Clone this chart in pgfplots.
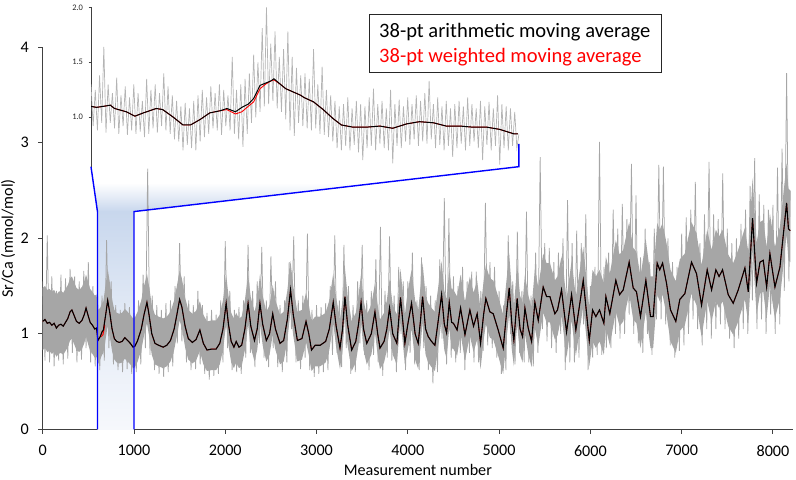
\documentclass[border=0pt]{standalone}
\usepackage{fontspec}
\setmainfont{Carlito}
\usepackage{pgfplots}
\usepackage{pgfplotstable}
\pgfplotsset{compat=1.18}
\definecolor{rawgray}{RGB}{166,166,166}
\definecolor{insetgray}{RGB}{180,180,180}
\definecolor{axisgray}{RGB}{64,64,64}
\definecolor{bandtop}{RGB}{200,215,237}
\definecolor{bandmid}{RGB}{228,235,246}
\definecolor{bandlow}{RGB}{246,248,252}
\pgfdeclareverticalshading{bandfade}{100bp}{color(0bp)=(bandlow); color(25bp)=(bandlow); color(50bp)=(bandmid); color(75bp)=(bandtop); color(100bp)=(bandtop)}
\pgfdeclareverticalshading{wedgefade}{100bp}{color(0bp)=(bandtop); color(25bp)=(bandtop); color(48bp)=(bandmid); color(72bp)=(white); color(100bp)=(white)}

\pgfplotstableread[row sep=\\]{
x y\\
0 1.13\\ 25 1.15\\ 50 1.11\\ 75 1.12\\ 100 1.09\\ 125 1.11\\ 150 1.06\\ 175 1.09\\ 200 1.10\\ 225 1.08\\
250 1.12\\ 275 1.16\\ 300 1.23\\ 320 1.25\\ 345 1.19\\ 370 1.13\\ 400 1.11\\ 430 1.14\\ 455 1.20\\ 475 1.27\\
495 1.20\\ 520 1.12\\ 545 1.09\\ 570 1.05\\ 590 1.06\\ 605 0.93\\ 630 0.97\\ 650 1.02\\ 665 1.04\\ 690 1.20\\
712 1.35\\ 735 1.22\\ 760 1.05\\ 785 0.95\\ 810 0.92\\ 840 0.91\\ 870 0.92\\ 900 0.96\\ 930 0.93\\ 960 0.90\\
990 0.86\\ 1010 0.87\\ 1040 0.93\\ 1080 1.05\\ 1110 1.20\\ 1142 1.33\\ 1165 1.20\\ 1195 1.00\\ 1230 0.90\\ 1270 0.88\\
1320 0.86\\ 1360 0.88\\ 1400 0.93\\ 1440 1.05\\ 1470 1.20\\ 1500 1.36\\ 1525 1.28\\ 1560 1.08\\ 1595 0.95\\ 1640 0.91\\
1680 0.94\\ 1722 1.04\\ 1760 0.90\\ 1800 0.83\\ 1850 0.84\\ 1900 0.84\\ 1940 0.90\\ 1975 1.05\\ 2010 1.32\\ 2035 1.10\\
2065 0.92\\ 2095 0.86\\ 2120 0.92\\ 2150 0.86\\ 2180 0.88\\ 2215 1.05\\ 2250 1.32\\ 2280 1.08\\ 2320 0.93\\ 2350 1.05\\
2380 1.32\\ 2410 1.10\\ 2450 0.93\\ 2485 1.00\\ 2520 1.21\\ 2550 1.05\\ 2600 0.90\\ 2640 0.93\\ 2680 1.15\\ 2715 1.46\\
2745 1.20\\ 2790 0.93\\ 2840 0.95\\ 2885 1.13\\ 2915 1.00\\ 2945 0.83\\ 2985 0.88\\ 3040 0.88\\ 3100 0.92\\ 3140 1.05\\
3183 1.33\\ 3215 1.08\\ 3257 0.85\\ 3285 1.05\\ 3311 1.39\\ 3340 1.10\\ 3385 0.83\\ 3430 0.92\\ 3460 1.10\\ 3488 1.33\\
3515 1.05\\ 3550 0.90\\ 3600 1.00\\ 3640 1.23\\ 3670 1.00\\ 3695 0.85\\ 3740 0.92\\ 3770 1.05\\ 3800 1.27\\ 3835 1.00\\
3880 0.90\\ 3920 1.38\\ 3968 0.90\\ 4000 1.10\\ 4041 1.32\\ 4080 1.00\\ 4114 0.90\\ 4140 1.15\\ 4162 1.39\\ 4195 1.05\\
4224 0.97\\ 4260 0.92\\ 4297 0.88\\ 4335 1.15\\ 4370 1.41\\ 4400 1.10\\ 4425 1.01\\ 4454 1.33\\ 4480 1.12\\ 4500 1.11\\
4540 1.04\\ 4578 1.27\\ 4626 0.99\\ 4680 1.25\\ 4720 1.08\\ 4760 1.21\\ 4797 0.90\\ 4830 1.20\\ 4855 1.37\\ 4899 1.23\\
4936 1.21\\ 4990 1.04\\ 5045 0.85\\ 5080 1.20\\ 5111 1.48\\ 5140 1.10\\ 5162 0.93\\ 5198 1.37\\ 5230 1.05\\ 5257 0.97\\
5283 1.27\\ 5319 1.06\\ 5356 0.92\\ 5392 1.33\\ 5429 1.14\\ 5483 1.49\\ 5520 1.39\\ 5557 1.39\\ 5611 1.21\\ 5640 1.25\\
5684 1.46\\ 5739 1.02\\ 5794 1.41\\ 5841 1.04\\ 5922 1.56\\ 5988 0.93\\ 6024 1.25\\ 6060 1.18\\ 6100 1.25\\ 6148 1.11\\
6170 1.39\\ 6213 1.21\\ 6279 1.56\\ 6320 1.41\\ 6360 1.46\\ 6425 1.75\\ 6469 1.48\\ 6505 1.44\\ 6549 1.18\\ 6608 1.56\\
6659 1.18\\ 6688 1.18\\ 6732 1.74\\ 6760 1.67\\ 6791 1.74\\ 6834 1.53\\ 6878 1.25\\ 6936 1.13\\ 6980 1.36\\ 7035 1.42\\
7108 1.75\\ 7163 1.63\\ 7218 1.30\\ 7280 1.67\\ 7328 1.46\\ 7375 1.67\\ 7410 1.60\\ 7448 1.67\\ 7510 1.41\\ 7565 1.32\\
7620 1.46\\ 7693 1.69\\ 7730 1.44\\ 7777 2.21\\ 7821 1.53\\ 7858 1.75\\ 7894 1.77\\ 7931 1.49\\ 7967 1.84\\ 8022 1.49\\
8077 1.70\\ 8150 2.37\\ 8170 2.10\\ 8190 2.08\\
}\mainma

\begin{document}
\begin{tikzpicture}
\useasboundingbox (0,0) rectangle (796bp,480bp);
\begin{axis}[
  at={(42.7bp,50.7bp)}, anchor=south west,
  scale only axis, width=750.3bp, height=382bp,
  xmin=0, xmax=8220, ymin=0, ymax=4,
  axis lines*=left,
  axis line style={axisgray, line width=1bp},
  xtick={0,1000,...,8000}, ytick={0,1,2,3,4},
  tick align=outside, major tick length=4.5bp,
  tick style={axisgray, line width=0.9bp},
  scaled x ticks=false,
  xticklabel style={/pgf/number format/1000 sep={}, yshift=-8bp},
  yticklabel style={xshift=-6bp},
  /pgf/number format/assume math mode=true,
  tick label style={font=\fontsize{16.2}{19}\selectfont, text=black},
  xlabel={Measurement number}, ylabel={Sr/Ca (mmol/mol)},
  label style={font=\fontsize{16.2}{19}\selectfont},
  xlabel style={at={(axis description cs:0.5,-0.1065)}, anchor=center},
  ylabel style={at={(axis description cs:-0.0462,0.5)}, anchor=center},
  no markers,
]
\fill[shading=wedgefade] (axis cs:552,2.6) -- (axis cs:600,2.28) -- (axis cs:1000,2.28) -- (axis cs:3871,2.6) -- cycle;
\draw[white, line width=2bp] (axis cs:540,2.6) -- (axis cs:3890,2.6);
\fill[shading=bandfade] (axis cs:600,0) rectangle (axis cs:1000,2.28);
% dense core of the raw series (upper edge, then lower edge backwards)
\addplot[fill=rawgray, draw=none] coordinates {
(0,1.48)(25,1.50)(50,1.46)(75,1.47)(100,1.44)(125,1.46)(150,1.41)(175,1.44)(200,1.45)(225,1.43)(250,1.47)(275,1.51)(300,1.58)(320,1.60)(345,1.54)(370,1.48)(400,1.46)(430,1.49)(455,1.55)(475,1.62)(495,1.55)(520,1.47)(545,1.44)(570,1.40)(590,1.41)(605,1.25)(630,1.27)(650,1.32)(665,1.34)(690,1.52)(712,1.68)(735,1.54)(760,1.36)(785,1.25)(810,1.22)(840,1.21)(870,1.22)(900,1.26)(930,1.23)(960,1.20)(990,1.16)
(1010,1.17)(1040,1.23)(1080,1.35)(1110,1.50)(1142,1.63)(1165,1.50)(1195,1.30)(1230,1.20)(1270,1.18)(1320,1.16)(1360,1.18)(1400,1.23)(1440,1.35)(1470,1.50)(1500,1.66)(1525,1.58)(1560,1.38)(1595,1.25)(1640,1.21)(1680,1.24)(1722,1.34)(1760,1.20)(1800,1.13)(1850,1.14)(1900,1.14)(1940,1.20)(1975,1.35)(2010,1.62)(2035,1.40)(2065,1.22)(2095,1.16)(2120,1.22)(2150,1.16)(2180,1.18)(2215,1.35)(2250,1.62)(2280,1.38)(2320,1.23)(2350,1.35)(2380,1.62)(2410,1.40)(2450,1.23)(2485,1.30)(2520,1.51)(2550,1.35)(2600,1.20)(2640,1.23)(2680,1.45)(2715,1.76)(2745,1.50)(2790,1.23)(2840,1.25)(2885,1.43)(2915,1.30)(2945,1.13)(2985,1.18)(3040,1.18)(3100,1.22)(3140,1.35)(3183,1.63)(3215,1.38)(3257,1.15)(3285,1.35)(3311,1.69)(3340,1.40)(3385,1.13)(3430,1.22)(3460,1.40)(3488,1.63)(3515,1.35)(3550,1.20)(3600,1.30)(3640,1.53)(3670,1.30)(3695,1.15)(3740,1.22)(3770,1.35)(3800,1.57)(3835,1.30)(3880,1.20)(3920,1.68)(3968,1.20)
(4000,1.45)(4041,1.67)(4080,1.35)(4114,1.25)(4140,1.50)(4162,1.74)(4195,1.40)(4224,1.32)(4260,1.27)(4297,1.23)(4335,1.50)(4370,1.76)(4400,1.45)(4425,1.36)(4454,1.68)(4480,1.47)(4500,1.46)(4540,1.39)(4578,1.62)(4626,1.34)(4680,1.60)(4720,1.43)(4760,1.56)(4797,1.25)(4830,1.55)(4855,1.72)(4899,1.58)(4936,1.56)(4990,1.39)(5045,1.20)(5080,1.55)(5111,1.83)(5140,1.45)(5162,1.28)(5198,1.72)(5230,1.40)(5257,1.32)(5283,1.62)(5319,1.41)(5356,1.27)(5392,1.68)(5429,1.49)(5483,1.84)(5520,1.74)(5557,1.74)(5611,1.56)(5640,1.60)(5684,1.81)(5739,1.37)(5794,1.76)(5841,1.39)(5922,1.91)(5988,1.28)
(6024,1.67)(6060,1.60)(6100,1.67)(6148,1.53)(6170,1.81)(6213,1.63)(6279,1.98)(6320,1.83)(6360,1.88)(6425,2.17)(6469,1.90)(6505,1.86)(6549,1.60)(6608,1.98)(6659,1.60)(6688,1.60)(6732,2.16)(6760,2.09)(6791,2.16)(6834,1.95)(6878,1.67)(6936,1.55)(6980,1.78)(7035,1.84)(7108,2.17)(7163,2.05)(7218,1.72)(7280,2.09)(7328,1.88)(7375,2.09)(7410,2.02)(7448,2.09)(7510,1.83)(7565,1.74)(7620,1.88)(7693,2.11)(7730,1.86)(7777,2.63)(7821,1.95)(7858,2.17)(7894,2.19)(7931,1.91)(7967,2.26)(8022,1.91)(8077,2.12)(8150,2.79)(8170,2.52)(8190,2.50)
(8190,1.75)(8170,1.77)(8150,2.04)(8077,1.37)(8022,1.16)(7967,1.51)(7931,1.16)(7894,1.44)(7858,1.42)(7821,1.20)(7777,1.88)(7730,1.11)(7693,1.36)(7620,1.13)(7565,0.99)(7510,1.08)(7448,1.34)(7410,1.27)(7375,1.34)(7328,1.13)(7280,1.34)(7218,0.97)(7163,1.30)(7108,1.42)(7035,1.09)(6980,1.03)(6936,0.80)(6878,0.92)(6834,1.20)(6791,1.41)(6760,1.34)(6732,1.41)(6688,0.85)(6659,0.85)(6608,1.23)(6549,0.85)(6505,1.11)(6469,1.15)(6425,1.42)(6360,1.13)(6320,1.08)(6279,1.23)(6213,0.88)(6170,1.06)(6148,0.78)(6100,0.92)(6060,0.85)(6024,0.92)
(5988,0.66)(5922,1.29)(5841,0.77)(5794,1.14)(5739,0.75)(5684,1.19)(5640,0.98)(5611,0.94)(5557,1.12)(5520,1.12)(5483,1.22)(5429,0.87)(5392,1.06)(5356,0.65)(5319,0.79)(5283,1.00)(5257,0.70)(5230,0.78)(5198,1.10)(5162,0.66)(5140,0.83)(5111,1.21)(5080,0.93)(5045,0.58)(4990,0.77)(4936,0.94)(4899,0.96)(4855,1.10)(4830,0.93)(4797,0.63)(4760,0.94)(4720,0.81)(4680,0.98)(4626,0.72)(4578,1.00)(4540,0.77)(4500,0.84)(4480,0.85)(4454,1.06)(4425,0.74)(4400,0.83)(4370,1.14)(4335,0.88)(4297,0.61)(4260,0.65)(4224,0.70)(4195,0.78)(4162,1.12)(4140,0.88)(4114,0.63)(4080,0.73)(4041,1.05)(4000,0.83)
(3968,0.68)(3920,1.16)(3880,0.68)(3835,0.78)(3800,1.05)(3770,0.83)(3740,0.70)(3695,0.63)(3670,0.78)(3640,1.01)(3600,0.78)(3550,0.68)(3515,0.83)(3488,1.11)(3460,0.88)(3430,0.70)(3385,0.61)(3340,0.88)(3311,1.17)(3285,0.83)(3257,0.63)(3215,0.86)(3183,1.11)(3140,0.83)(3100,0.70)(3040,0.66)(2985,0.66)(2945,0.61)(2915,0.78)(2885,0.91)(2840,0.73)(2790,0.71)(2745,0.98)(2715,1.24)(2680,0.93)(2640,0.71)(2600,0.68)(2550,0.83)(2520,0.99)(2485,0.78)(2450,0.71)(2410,0.88)(2380,1.10)(2350,0.83)(2320,0.71)(2280,0.86)(2250,1.10)(2215,0.83)(2180,0.66)(2150,0.64)(2120,0.70)(2095,0.64)(2065,0.70)(2035,0.88)(2010,1.10)(1975,0.83)(1940,0.68)(1900,0.62)(1850,0.62)(1800,0.61)(1760,0.68)(1722,0.82)(1680,0.72)(1640,0.69)(1595,0.73)(1560,0.86)(1525,1.06)(1500,1.14)(1470,0.98)(1440,0.83)(1400,0.71)(1360,0.66)(1320,0.64)(1270,0.66)(1230,0.68)(1195,0.78)(1165,0.98)(1142,1.11)(1110,0.98)(1080,0.83)(1040,0.71)(1010,0.65)
(990,0.64)(960,0.68)(930,0.71)(900,0.74)(870,0.70)(840,0.69)(810,0.70)(785,0.73)(760,0.82)(735,0.97)(712,1.08)(690,0.95)(665,0.80)(650,0.78)(630,0.73)(605,0.68)(590,0.76)(570,0.75)(545,0.79)(520,0.82)(495,0.90)(475,0.97)(455,0.90)(430,0.84)(400,0.81)(370,0.83)(345,0.89)(320,0.95)(300,0.93)(275,0.86)(250,0.82)(225,0.78)(200,0.80)(175,0.79)(150,0.76)(125,0.81)(100,0.79)(75,0.82)(50,0.81)(25,0.85)(0,0.83)
};
\addplot[rawgray, line width=0.75bp] coordinates {
(0,1.55)(25,0.72)(50,2.03)(75,0.70)(100,1.60)(125,0.66)(150,1.45)(175,0.72)(200,1.62)(225,0.68)
(250,1.58)(275,0.74)(300,1.68)(325,0.80)(350,1.60)(375,0.70)(400,1.55)(425,0.73)(450,1.66)(475,0.85)
(500,1.75)(525,0.70)(550,1.50)(575,0.66)(600,1.45)(625,0.62)(650,1.40)(675,0.72)(700,1.98)(725,0.85)
(750,1.55)(775,0.68)(800,1.30)(825,0.62)(850,1.25)(875,0.60)(900,1.32)(925,0.63)(950,1.28)(975,0.58)
(1000,1.22)(1025,0.60)(1050,1.35)(1075,0.68)(1100,1.62)(1125,0.85)(1150,2.73)(1175,0.78)(1200,1.40)(1225,0.62)
(1250,1.30)(1275,0.58)(1300,1.25)(1325,0.55)(1350,1.32)(1375,0.60)(1400,1.35)(1425,0.66)(1450,1.50)(1475,0.90)
(1500,1.95)(1525,0.92)(1550,1.60)(1575,0.70)(1600,1.35)(1625,0.62)(1650,1.30)(1675,0.63)(1700,1.45)(1725,0.68)
(1750,1.30)(1775,0.58)(1800,1.22)(1825,0.52)(1850,1.25)(1875,0.56)(1900,1.20)(1925,0.58)(1950,1.35)(1975,0.70)
(2000,1.97)(2025,0.85)(2050,1.45)(2075,0.62)(2100,1.25)(2125,0.60)(2150,1.28)(2175,0.58)(2200,1.35)(2225,0.75)
(2250,1.93)(2275,0.80)(2300,1.45)(2325,0.65)(2350,1.55)(2375,0.90)(2400,1.91)(2425,0.75)(2450,1.35)(2475,0.65)
(2500,1.81)(2525,0.85)(2550,1.55)(2575,0.65)(2600,1.30)(2625,0.60)(2650,1.35)(2675,0.70)(2700,1.75)(2725,1.05)
(2750,2.02)(2775,0.70)(2800,1.35)(2825,0.63)(2850,1.40)(2875,0.75)(2900,2.05)(2925,0.62)(2950,1.25)(2975,0.55)
(3000,1.30)(3025,0.58)(3050,1.28)(3075,0.60)(3100,1.32)(3125,0.62)(3150,1.50)(3175,0.78)(3200,2.03)(3225,0.80)
(3250,1.35)(3275,0.65)(3300,1.93)(3325,0.85)(3350,1.50)(3375,0.58)(3400,1.30)(3425,0.60)(3450,1.55)(3475,0.90)
(3500,1.93)(3525,0.78)(3550,1.35)(3575,0.62)(3600,1.45)(3625,0.78)(3650,1.78)(3675,0.70)(3700,2.12)(3725,0.56)
(3750,1.45)(3775,0.75)(3800,2.02)(3825,0.72)(3850,1.40)(3875,0.60)(3900,1.70)(3925,1.00)(3950,1.55)(3975,0.62)
(4000,1.55)(4025,0.80)(4050,1.85)(4075,0.68)(4100,1.35)(4125,0.62)(4150,1.80)(4175,0.85)(4200,1.50)(4225,0.62)
(4250,1.40)(4275,0.48)(4300,1.35)(4325,0.60)(4350,1.78)(4375,0.95)(4400,2.42)(4425,0.68)(4450,2.21)(4475,0.75)
(4500,1.60)(4525,0.70)(4550,1.50)(4575,0.80)(4600,1.70)(4625,0.62)(4650,1.55)(4675,0.80)(4700,1.65)(4725,0.70)
(4750,1.65)(4775,0.70)(4800,1.45)(4825,0.82)(4850,2.37)(4875,0.88)(4900,1.75)(4925,0.85)(4950,1.70)(4975,0.75)
(5000,1.45)(5025,0.58)(5050,1.30)(5075,0.62)(5100,2.03)(5125,1.00)(5150,1.55)(5175,0.68)(5200,2.07)(5225,0.80)
(5250,1.45)(5275,0.70)(5300,2.28)(5325,0.70)(5350,1.40)(5375,0.66)(5400,1.85)(5425,0.80)(5450,2.85)(5475,1.05)
(5500,1.95)(5525,0.92)(5550,1.90)(5575,0.85)(5600,1.75)(5625,0.80)(5650,1.85)(5675,1.00)(5700,2.00)(5725,0.62)
(5750,2.40)(5775,0.70)(5800,1.95)(5825,0.70)(5850,2.08)(5875,0.75)(5900,1.95)(5925,1.10)(5950,2.25)(5975,0.62)
(6000,1.50)(6025,0.75)(6050,1.70)(6075,0.78)(6100,3.01)(6125,0.78)(6150,1.70)(6175,0.85)(6200,1.85)(6225,0.85)
(6250,2.30)(6275,1.00)(6300,2.10)(6325,0.95)(6350,2.36)(6375,1.00)(6400,2.20)(6425,1.20)(6450,2.78)(6475,1.00)
(6500,2.45)(6525,0.90)(6550,1.80)(6575,0.80)(6600,2.10)(6625,1.00)(6650,1.75)(6675,0.78)(6700,2.10)(6725,1.15)
(6750,2.77)(6775,1.15)(6800,2.75)(6825,1.10)(6850,2.00)(6875,0.88)(6900,1.75)(6925,0.75)(6950,1.70)(6975,0.82)
(7000,2.05)(7025,0.88)(7050,2.22)(7075,1.00)(7100,2.30)(7125,1.15)(7150,2.59)(7175,1.05)(7200,1.95)(7225,0.88)
(7250,2.25)(7275,1.05)(7300,2.80)(7325,0.95)(7350,2.25)(7375,1.05)(7400,2.20)(7425,1.10)(7450,2.68)(7475,1.05)
(7500,2.10)(7525,0.95)(7550,1.95)(7575,0.85)(7600,2.00)(7625,0.95)(7650,2.15)(7675,1.05)(7700,2.30)(7725,1.00)
(7750,2.55)(7775,1.35)(7800,2.84)(7825,1.05)(7850,2.46)(7875,1.15)(7900,2.35)(7925,1.00)(7950,2.30)(7975,1.20)
(8000,2.35)(8025,1.00)(8050,2.74)(8075,1.10)(8100,2.94)(8125,1.45)(8150,3.73)(8175,1.55)(8190,2.50)
};
\addplot[red, line width=0.7bp] table {\mainma};
\addplot[red, line width=1.0bp] coordinates {(640,0.97)(660,0.99)(680,1.09)};
\addplot[black, line width=1.1bp] table {\mainma};
\draw[blue, line width=1.4bp] (axis cs:529,2.75) -- (axis cs:600,2.28) -- (axis cs:600,0);
\draw[blue, line width=1.4bp] (axis cs:5217,2.99) -- (axis cs:5217,2.75) -- (axis cs:1000,2.28) -- (axis cs:1000,0);
\end{axis}

\begin{axis}[
  at={(91bp,313bp)}, anchor=south west,
  scale only axis, width=428bp, height=159.7bp,
  xmin=0, xmax=400, ymin=0.548, ymax=2.0,
  axis x line=none, axis y line*=left,
  y axis line style={axisgray, line width=0.8bp},
  xtick=\empty, ytick={1,1.5,2}, yticklabels={1.0,1.5,2.0},
  tick align=outside, major tick length=2.5bp,
  tick style={axisgray, line width=0.6bp},
  yticklabel style={xshift=-2bp},
  tick label style={font=\fontsize{8.5}{10}\selectfont, text=black!85},
  no markers,
]
\addplot[insetgray, line width=0.7bp] coordinates {
(0,1.30)(2,0.92)(4,1.25)(6,0.88)(8,1.38)(10,0.95)(12,1.64)(14,0.86)(16,1.30)(18,0.95)
(20,1.22)(22,0.90)(24,1.36)(26,0.85)(28,1.20)(30,0.92)(32,1.28)(34,0.84)(36,1.18)(38,0.88)
(40,1.30)(42,0.85)(44,1.22)(46,0.87)(48,1.15)(50,0.82)(52,1.35)(54,0.85)(56,1.25)(58,0.90)
(60,1.30)(62,0.86)(64,1.22)(66,0.92)(68,1.40)(70,0.88)(72,1.28)(74,0.85)(76,1.20)(78,0.80)
(80,1.15)(82,0.78)(84,1.10)(86,0.70)(88,1.13)(90,0.75)(92,1.08)(94,0.72)(96,1.15)(98,0.70)
(100,1.20)(102,0.78)(104,1.25)(106,0.82)(108,1.18)(110,0.85)(112,1.28)(114,0.90)(116,1.22)(118,0.88)
(120,1.30)(122,0.84)(124,1.25)(126,0.92)(128,1.20)(130,0.88)(132,1.55)(134,0.85)(136,1.25)(138,0.80)
(140,1.30)(142,0.73)(144,1.35)(146,0.85)(148,1.40)(150,0.95)(152,1.57)(154,1.00)(156,1.50)(158,1.05)
(160,1.81)(162,1.10)(164,2.00)(166,1.12)(168,1.67)(170,1.15)(172,1.78)(174,1.08)(176,1.55)(178,1.05)
(180,1.62)(182,0.98)(184,1.78)(186,0.88)(188,1.55)(190,0.83)(192,1.45)(194,0.95)(196,1.38)(198,0.92)
(200,1.40)(202,0.90)(204,1.35)(206,0.88)(208,1.62)(210,0.90)(212,1.30)(214,0.85)(216,1.46)(218,0.84)
(220,1.25)(222,0.82)(224,1.20)(226,0.78)(228,1.15)(230,0.72)(232,1.10)(234,0.70)(236,1.12)(238,0.74)
(240,1.18)(242,0.70)(244,1.08)(246,0.75)(248,1.15)(250,0.68)(252,1.12)(254,0.61)(256,1.10)(258,0.72)
(260,1.18)(262,0.74)(264,1.26)(266,0.70)(268,1.12)(270,0.76)(272,1.15)(274,0.72)(276,1.08)(278,0.70)
(280,1.25)(282,0.58)(284,1.12)(286,0.74)(288,1.16)(290,0.72)(292,1.10)(294,0.78)(296,1.18)(298,0.75)
(300,1.12)(302,0.80)(304,1.20)(306,0.74)(308,1.15)(310,0.78)(312,1.22)(314,0.76)(316,1.33)(318,0.80)
(320,1.12)(322,0.72)(324,1.18)(326,0.75)(328,1.10)(330,0.70)(332,1.15)(334,0.74)(336,1.08)(338,0.64)
(340,1.12)(342,0.72)(344,1.15)(346,0.76)(348,1.10)(350,0.70)(352,1.18)(354,0.74)(356,1.12)(358,0.78)
(360,1.08)(362,0.72)(364,1.15)(366,0.61)(368,1.10)(370,0.75)(372,1.14)(374,0.70)(376,1.08)(378,0.74)
(380,1.20)(382,0.57)(384,1.12)(386,0.72)(388,1.10)(390,0.70)(392,1.08)(394,0.74)(396,1.05)(398,0.72)
(400,0.85)
};
\addplot[red, line width=0.9bp] coordinates {
(0,1.10)(5,1.09)(12,1.10)(18,1.11)(22,1.08)(33,1.05)(41,1.01)(49,1.04)(61,1.08)(67,1.07)
(77,1.00)(86,0.93)(93,0.93)(102,0.98)(111,1.04)(121,1.06)(127,1.07)(135,1.03)(141,1.05)(147,1.10)
(152,1.14)(158,1.26)(163,1.30)(168,1.33)(171,1.34)(177,1.30)(182,1.26)(189,1.23)(196,1.20)(199,1.18)
(208,1.14)(217,1.07)(226,0.99)(234,0.93)(245,0.91)(257,0.91)(270,0.92)(282,0.90)(295,0.94)(307,0.96)
(320,0.95)(332,0.92)(345,0.92)(357,0.91)(370,0.91)(382,0.89)(395,0.85)(399,0.85)
};
\addplot[black, line width=1.0bp] coordinates {
(0,1.10)(5,1.09)(12,1.10)(18,1.11)(22,1.08)(33,1.05)(41,1.01)(49,1.04)(61,1.08)(67,1.07)
(77,1.00)(86,0.93)(93,0.93)(102,0.98)(111,1.04)(121,1.06)(127,1.08)(135,1.05)(141,1.09)(147,1.12)
(152,1.17)(158,1.29)(163,1.31)(168,1.33)(171,1.35)(177,1.30)(182,1.26)(189,1.23)(196,1.20)(199,1.18)
(208,1.14)(217,1.07)(226,0.99)(234,0.93)(245,0.91)(257,0.91)(270,0.92)(282,0.90)(295,0.94)(307,0.96)
(320,0.95)(332,0.92)(345,0.92)(357,0.91)(370,0.91)(382,0.89)(395,0.85)(399,0.85)
};
\end{axis}

\draw[black!85, line width=0.9bp] (369bp,407.3bp) rectangle (661bp,465.3bp);
\node[anchor=base west, inner sep=0pt, font=\fontsize{20.6}{25}\selectfont] at (379bp,442.3bp) {38-pt arithmetic moving average};
\node[anchor=base west, inner sep=0pt, font=\fontsize{20.6}{25}\selectfont, text=red] at (379bp,417.3bp) {38-pt weighted moving average};
\end{tikzpicture}
\end{document}
